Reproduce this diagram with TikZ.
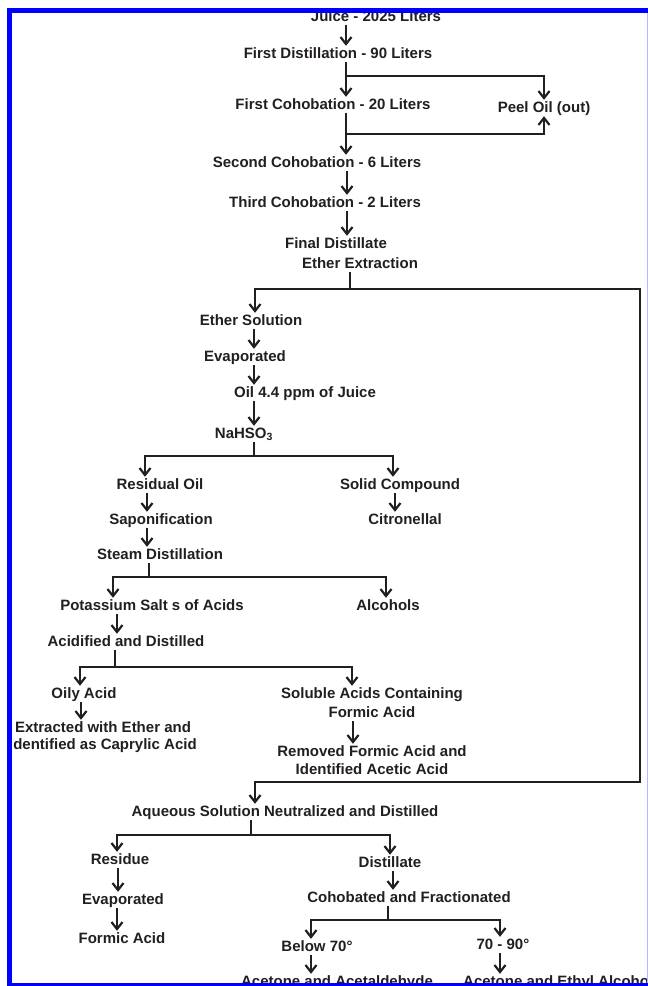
\documentclass[tikz,border=0pt]{standalone}
\usepackage{fontspec}
\setmainfont{Liberation Sans}
\usetikzlibrary{arrows.meta}
\definecolor{ink}{HTML}{231F20}
\definecolor{frameblue}{HTML}{0000FF}
\definecolor{lightframe}{HTML}{B8B8FF}
\begin{document}
\begin{tikzpicture}[x=1pt,y=-1pt,
  lbl/.style={anchor=base, inner sep=1pt, text height=11pt, text depth=3pt,
              font=\bfseries\fontsize{15}{18}\selectfont, text=ink},
  conn/.style={draw=ink, line width=2.2pt},
  arr/.style={conn, -{Straight Barb[length=7pt,width=11pt]}}]
\useasboundingbox (0,0) rectangle (648,986);
\fill[white] (0,0) rectangle (648,986);
\foreach \x in {80,81,113,115,117,118,145,147,149,251,254,255,311,346,347,350,352,353,386,388,390,393,395,500}
  \coordinate (x\x) at (\x,0);
% nodes
\node[lbl] (juice) at (376,21) {Juice - 2025 Liters};
\node[lbl] (fd) at (338,58) {First Distillation - 90 Liters};
\node[lbl] (fc) at (333,109) {First Cohobation - 20 Liters};
\node[lbl] (peel) at (544,112) {Peel Oil (out)};
\node[lbl] (sc) at (317,167) {Second Cohobation - 6 Liters};
\node[lbl] (tc) at (325,207) {Third Cohobation - 2 Liters};
\node[lbl] (final) at (336,248) {Final Distillate};
\node[lbl] (ee) at (360,268) {Ether Extraction};
\node[lbl] (es) at (251,325) {Ether Solution};
\node[lbl] (ev1) at (245,361) {Evaporated};
\node[lbl] (oil) at (305,397) {Oil 4.4 ppm of Juice};
\node[lbl] (na) at (244,438) {NaHSO\textsubscript{3}};
\node[lbl] (ro) at (160,489) {Residual Oil};
\node[lbl] (solid) at (400,489) {Solid Compound};
\node[lbl] (sap) at (161,524) {Saponification};
\node[lbl] (cit) at (405,524) {Citronellal};
\node[lbl] (steam) at (160,559) {Steam Distillation};
\node[lbl] (pot) at (152,610) {Potassium Salt s of Acids};
\node[lbl] (alc) at (388,610) {Alcohols};
\node[lbl] (acid) at (126,646) {Acidified and Distilled};
\node[lbl] (oily) at (84,698) {Oily Acid};
\node[lbl] (sol) at (372,698) {Soluble Acids Containing};
\node[lbl] (sol2) at (372,717) {Formic Acid};
\node[lbl] (ext) at (103,732) {Extracted with Ether and};
\node[lbl] (ext2) at (105,749) {dentified as Caprylic Acid};
\node[lbl] (rem) at (372,756) {Removed Formic Acid and};
\node[lbl] (rem2) at (372,774) {Identified Acetic Acid};
\node[lbl] (aq) at (285,816) {Aqueous Solution Neutralized and Distilled};
\node[lbl] (res) at (120,864) {Residue};
\node[lbl] (dist) at (390,867) {Distillate};
\node[lbl] (ev2) at (123,904) {Evaporated};
\node[lbl] (coh) at (409,902) {Cohobated and Fractionated};
\node[lbl] (form) at (122,943) {Formic Acid};
\node[lbl] (below) at (317,951) {Below 70°};
\node[lbl] (r7090) at (503,949) {70 - 90°};
\node[lbl] (ace1) at (337,986) {Acetone and Acetaldehyde};
\node[lbl, anchor=base west] (ace2) at (462,986) {Acetone and Ethyl Alcohol};
% junction coordinates
\coordinate (b1) at (346,76);
\coordinate (b2) at (346,134);
\coordinate (b3) at (350,289);
\coordinate (rt) at (640,289);
\coordinate (rb) at (640,782);
\coordinate (b5) at (254,456);
\coordinate (b6) at (149,577);
\coordinate (b7) at (115,667);
\coordinate (b8) at (251,835);
\coordinate (b9) at (388,920);
% connectors
\draw[arr] (juice.south -| x346) -- (fd.north -| x346);
\draw[arr] (fd.south -| x346) -- (fc.north -| x346);
\draw[arr] (b1) -| (peel.north);
\draw[arr] (fc.south -| x346) -- (sc.north -| x346);
\draw[arr] (b2) -| (peel.south);
\draw[arr] (sc.south -| x347) -- (tc.north -| x347);
\draw[arr] (tc.south -| x347) -- (final.north -| x347);
\draw[conn] (ee.south -| b3) -- (b3);
\draw[arr] (rt) -| (es.north -| x255);
\draw[arr] (b3) -- (rt) -- (rb) -| (aq.north -| x255);
\draw[arr] (es.south -| x254) -- (ev1.north -| x254);
\draw[arr] (ev1.south -| x254) -- (oil.north -| x254);
\draw[arr] (oil.south -| x254) -- (na.north -| x254);
\draw[conn] (na.south -| b5) -- (b5);
\draw[arr] (b5) -| (ro.north -| x145);
\draw[arr] (b5) -| (solid.north -| x393);
\draw[arr] (ro.south -| x147) -- (sap.north -| x147);
\draw[arr] (solid.south -| x395) -- (cit.north -| x395);
\draw[arr] (sap.south -| x147) -- (steam.north -| x147);
\draw[conn] (steam.south -| b6) -- (b6);
\draw[arr] (b6) -| (pot.north -| x113);
\draw[arr] (b6) -| (alc.north -| x386);
\draw[arr] (pot.south -| x117) -- (acid.north -| x117);
\draw[conn] (acid.south -| b7) -- (b7);
\draw[arr] (b7) -| (oily.north -| x80);
\draw[arr] (b7) -| (sol.north -| x352);
\draw[arr] (oily.south -| x81) -- (ext.north -| x81);
\draw[arr] (sol2.south -| x353) -- (rem.north -| x353);
\draw[conn] (aq.south -| b8) -- (b8);
\draw[arr] (b8) -| (res.north -| x117);
\draw[arr] (b8) -| (dist.north -| x390);
\draw[arr] (res.south -| x118) -- (ev2.north -| x118);
\draw[arr] (dist.south -| x393) -- (coh.north -| x393);
\draw[arr] (ev2.south -| x117) -- (form.north -| x117);
\draw[conn] (coh.south -| b9) -- (b9);
\draw[arr] (b9) -| (below.north -| x311);
\draw[arr] (b9) -| (r7090.north -| x500);
\draw[arr] (below.south -| x311) -- (ace1.north -| x311);
\draw[arr] (r7090.south -| x500) -- (ace2.north -| x500);
% blue frame
\fill[frameblue] (7,8) rectangle (648,13);
\fill[frameblue] (7,8) rectangle (12,986);
\fill[frameblue] (7,983) rectangle (648,986);
\draw[lightframe, line width=1pt] (647,13) -- (647,983);
\end{tikzpicture}
\end{document}
